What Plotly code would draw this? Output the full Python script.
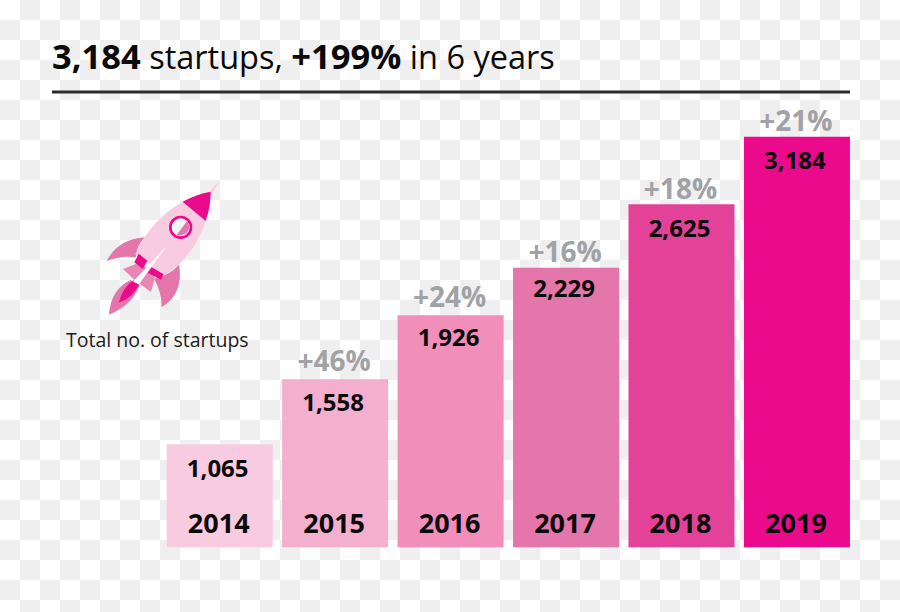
import plotly.graph_objects as go

W, H = 900, 612

# ---- data ----
years = [2014, 2015, 2016, 2017, 2018, 2019]
startups = ["1,065", "1,558", "1,926", "2,229", "2,625", "3,184"]
growth = ["", "+46%", "+24%", "+16%", "+18%", "+21%"]
# drawn bar heights (the original is not to scale)
bar_heights = [103, 168, 232, 279.5, 343, 410.5]
bar_colors = ["#f9cbe0", "#f4afcf", "#f28eba", "#e476ab", "#e34298", "#ec0a8c"]

# ---- label styling offsets ----
value_drop = [27, 26, 25, 23, 27, 26]
growth_lift = [0, 15, 15, 13, 12, 13]
year_height = 21

FONT = "Open Sans"
BASE_PX = 547.3
PITCH = 115.45
FIRST_CENTER = 219.7


def px(x):
    return x / W


def py(y):
    return 1 - y / H


def checker():
    parts = []
    for j in range(H // 20 + 1):
        for i in range(W // 20 + 1):
            if (i + j) % 2:
                x0, x1 = px(i * 20), px(min((i + 1) * 20, W))
                y0, y1 = py(j * 20), py(min((j + 1) * 20, H))
                parts.append(f"M{x0:.5f},{y0:.5f}L{x1:.5f},{y0:.5f}L{x1:.5f},{y1:.5f}L{x0:.5f},{y1:.5f}Z")
    return "".join(parts)


def rk(cmds):
    """Rocket artwork: commands in a local 3x drawing space around (90,170)."""
    out = []
    for c in cmds:
        if c == "Z":
            out.append("Z")
            continue
        letter, pts = c
        coords = " ".join(f"{px(90 + a / 3):.5f},{py(170 + b / 3):.5f}" for a, b in pts)
        out.append(letter + coords)
    return "".join(out)


def piece(cmds, color):
    return dict(type="path", xref="paper", yref="paper", path=rk(cmds),
                fillcolor=color, line=dict(width=0), layer="above")


def circle(cx, cy, r, color):
    x, y = 90 + cx / 3, 170 + cy / 3
    return dict(type="circle", xref="paper", yref="paper",
                x0=px(x - r / 3), x1=px(x + r / 3), y0=py(y + r / 3), y1=py(y - r / 3),
                fillcolor=color, line=dict(width=0), layer="above")


ROCKET = [
    piece([("M", [(352, 72)]), ("L", [(390, 30)]), ("L", [(364, 76)]), "Z"], "#f9cbe0"),
    piece([("M", [(50, 274)]), ("Q", [(82, 208), (165, 202)]), ("Q", [(140, 225), (138, 262)]),
           ("Q", [(90, 255), (50, 274)]), "Z"], "#e476ab"),
    piece([("M", [(267, 284)]), ("Q", [(282, 372), (215, 411)]), ("Q", [(215, 365), (192, 326)]),
           ("Q", [(240, 315), (267, 284)]), "Z"], "#e476ab"),
    piece([("M", [(99, 297)]), ("L", [(152, 276)]), ("L", [(195, 322)]), ("L", [(183, 366)]),
           ("L", [(140, 335)]), "Z"], "#e887b5"),
    piece([("M", [(57, 434)]), ("Q", [(62, 358), (122, 330)]), ("L", [(149, 345)]),
           ("Q", [(128, 405), (57, 434)]), "Z"], "#e476ab"),
    piece([("M", [(86, 398)]), ("Q", [(98, 352), (130, 331)]), ("L", [(147, 344)]),
           ("Q", [(127, 384), (86, 398)]), "Z"], "#ec0a8c"),
    piece([("M", [(278, 95)]), ("Q", [(182, 150), (136, 252)]), ("L", [(220, 318)]),
           ("Q", [(312, 262), (347, 153)]), "Z"], "#f9cbe0"),
    piece([("M", [(278, 95)]), ("Q", [(320, 72), (362, 65)]), ("Q", [(362, 110), (347, 153)]), "Z"], "#ec0a8c"),
    piece([("M", [(146, 251)]), ("L", [(172, 272)]), ("L", [(158, 297)]), ("L", [(133, 277)]), "Z"], "#ec0a8c"),
    piece([("M", [(184, 291)]), ("L", [(221, 313)]), ("L", [(213, 329)]), ("L", [(173, 308)]), "Z"], "#ec0a8c"),
    piece([("M", [(230, 228)]), ("L", [(129, 335)]), ("L", [(147, 343)]), "Z"], "#ffffff"),
    circle(272, 172, 35, "#ec0a8c"),
    circle(272, 172, 27, "#eef5fa"),
    piece([("M", [(292, 152)]), ("Q", [(312, 194), (258, 197)]), "Z"], "#e476ab"),
]

fig = go.Figure()

fig.add_bar(x=years, y=bar_heights, width=106 / PITCH,
            marker=dict(color=bar_colors, line=dict(width=0)), showlegend=False, hoverinfo="skip")

year_x = [v - 1 / PITCH for v in years]
value_x = [v - 2 / PITCH for v in years]
fig.add_scatter(x=year_x, y=[year_height] * len(years), mode="text", text=[str(v) for v in years],
                textfont=dict(family=FONT, size=27, color="#0a0a0a", weight="bold"),
                textposition="middle center", showlegend=False, hoverinfo="skip")
fig.add_scatter(x=value_x, y=[h - d for h, d in zip(bar_heights, value_drop)], mode="text", text=startups,
                textfont=dict(family=FONT, size=24, color="#0a0a0a", weight="bold"),
                textposition="middle center", showlegend=False, hoverinfo="skip")
fig.add_scatter(x=year_x, y=[h + d for h, d in zip(bar_heights, growth_lift)], mode="text", text=growth,
                textfont=dict(family=FONT, size=28, color="#a0a2a5", weight="bold"),
                textposition="middle center", showlegend=False, hoverinfo="skip", cliponaxis=False)

shapes = [
    dict(type="path", xref="paper", yref="paper", path=checker(),
         fillcolor="#efefef", line=dict(width=0), layer="below"),
    dict(type="line", xref="paper", yref="paper", x0=px(52), x1=px(850), y0=py(92), y1=py(92),
         line=dict(color="#2b2b2b", width=3), layer="above"),
] + ROCKET

BIG = '<span style="font-size:34.5px"><b>{}</b></span>'
annotations = [
    dict(xref="paper", yref="paper", x=px(50), y=py(55), xanchor="left", yanchor="middle", showarrow=False,
         text=BIG.format("3,184") + " startups, " + BIG.format("+199%") + " in 6 years",
         font=dict(family=FONT, size=32.5, color="#0a0a0a")),
    dict(xref="paper", yref="paper", x=px(157.5), y=py(339), xanchor="center", yanchor="middle", showarrow=False,
         text="Total no. of startups", font=dict(family=FONT, size=19.5, color="#1a1a1a")),
]

left = years[0] - FIRST_CENTER / PITCH
fig.update_layout(
    width=W, height=H, margin=dict(l=0, r=0, t=0, b=0, pad=0),
    paper_bgcolor="#ffffff", plot_bgcolor="rgba(0,0,0,0)",
    xaxis=dict(range=[left, left + W / PITCH], visible=False),
    yaxis=dict(range=[BASE_PX - H, BASE_PX], visible=False),
    shapes=shapes, annotations=annotations, showlegend=False,
)

fig.write_html("out.html", config={"displayModeBar": False},
               post_script="document.body.style.margin='0';document.documentElement.style.overflow='hidden';")
